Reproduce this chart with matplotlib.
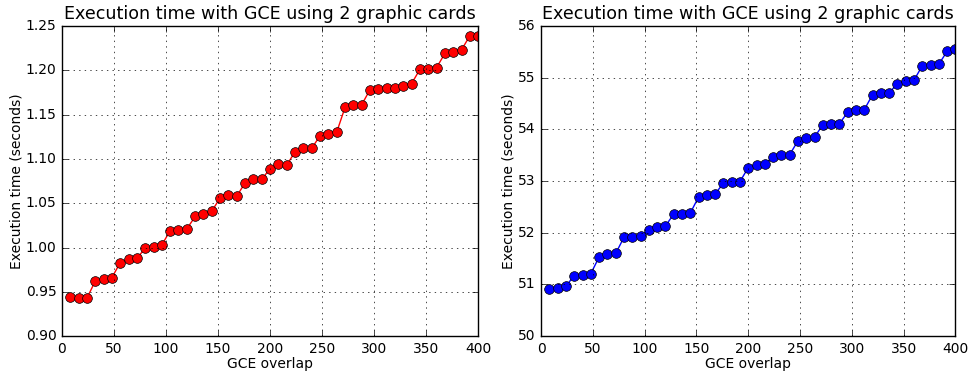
import numpy as np
import matplotlib
matplotlib.use('Agg')
import matplotlib.pyplot as plt

plt.style.use('classic')

# GCE overlap values
overlap = np.arange(8, 401, 8)

# execution times, short run (seconds)
time_short = [0.944, 0.943, 0.943, 0.962, 0.964, 0.966, 0.983, 0.987, 0.988,
              0.999, 1.001, 1.003, 1.019, 1.020, 1.021, 1.035, 1.038, 1.041,
              1.056, 1.059, 1.058, 1.073, 1.077, 1.077, 1.089, 1.094, 1.093,
              1.108, 1.112, 1.112, 1.126, 1.128, 1.130, 1.158, 1.161, 1.161,
              1.178, 1.179, 1.180, 1.180, 1.182, 1.185, 1.201, 1.201, 1.203,
              1.219, 1.221, 1.223, 1.239, 1.239]

# execution times, long run (seconds)
time_long = [50.91, 50.94, 50.97, 51.17, 51.19, 51.21, 51.53, 51.58, 51.60,
             51.91, 51.92, 51.93, 52.06, 52.11, 52.13, 52.36, 52.37, 52.38,
             52.69, 52.73, 52.75, 52.96, 52.98, 52.99, 53.26, 53.31, 53.33,
             53.47, 53.50, 53.51, 53.78, 53.83, 53.85, 54.09, 54.11, 54.11,
             54.33, 54.38, 54.38, 54.67, 54.70, 54.71, 54.88, 54.94, 54.95,
             55.23, 55.25, 55.26, 55.51, 55.55]

title = 'Execution time with GCE using 2 graphic cards'

fig = plt.figure(figsize=(9.68, 3.76), dpi=100, facecolor='white')
ax1 = fig.add_axes([0.064, 0.106, 0.430, 0.825])
ax2 = fig.add_axes([0.559, 0.106, 0.428, 0.825])

for ax, t, c in [(ax1, time_short, 'red'), (ax2, time_long, 'blue')]:
    ax.plot(overlap, t, '-o', color=c, markerfacecolor=c, markeredgecolor='black',
            markersize=7, linewidth=1)
    ax.set_xlim(0, 400)
    ax.set_title(title, fontsize=12.6)
    ax.set_xlabel('GCE overlap', fontsize=10, labelpad=1)
    ax.set_ylabel('Execution time (seconds)', fontsize=10, labelpad=1.5)
    ax.grid(True)
    ax.tick_params(labelsize=10)

ax1.set_ylim(0.90, 1.25)
ax1.set_yticks(np.arange(0.90, 1.251, 0.05))
ax1.set_yticklabels(['%.2f' % v for v in np.arange(0.90, 1.251, 0.05)])
ax2.set_ylim(50, 56)

fig.savefig('out.png', dpi=100, facecolor='white')
